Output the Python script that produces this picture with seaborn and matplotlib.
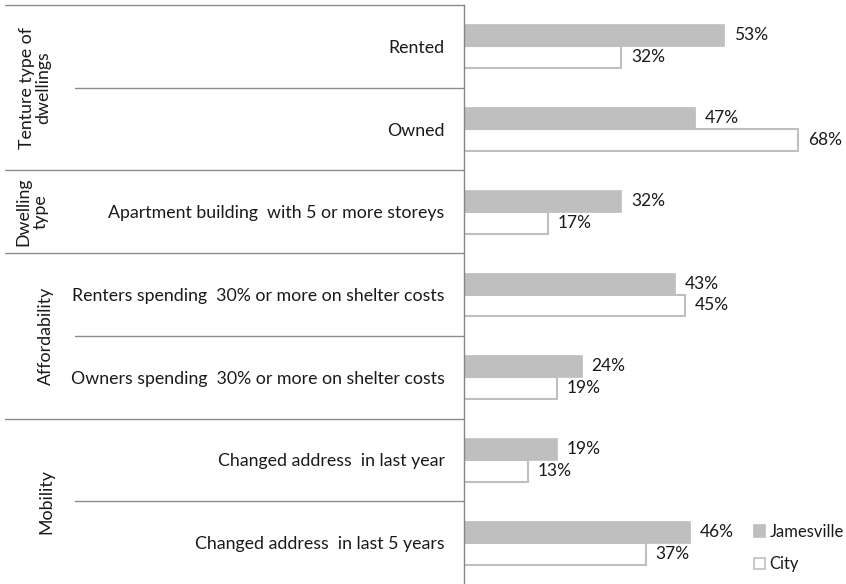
import matplotlib
matplotlib.use("Agg")
import matplotlib.pyplot as plt
import seaborn as sns
import pandas as pd

categories = [
    "Rented",
    "Owned",
    "Apartment building  with 5 or more storeys",
    "Renters spending  30% or more on shelter costs",
    "Owners spending  30% or more on shelter costs",
    "Changed address  in last year",
    "Changed address  in last 5 years",
]
jamesville = [53, 47, 32, 43, 24, 19, 46]
city = [32, 68, 17, 45, 19, 13, 37]
series = ["Jamesville", "City"]

groups = ["Tenture type of\ndwellings", "Dwelling\ntype", "Affordability", "Mobility"]
group_spans = [(0, 1), (2, 2), (3, 4), (5, 6)]

df = pd.DataFrame({
    "category": categories * 2,
    "value": jamesville + city,
    "series": [series[0]] * len(categories) + [series[1]] * len(categories),
})

sns.set_style("white")
plt.rcParams["font.family"] = ["Lato", "DejaVu Sans"]

W, H = 846, 584
fig = plt.figure(figsize=(W / 100, H / 100), dpi=100)
ax = fig.add_axes([464 / W, 0.0, 344 / W, 1 - 5 / H])

gray = "#bfbfbf"
txt = "#1a1a1a"
sns.barplot(data=df, y="category", x="value", hue="series", order=categories,
            hue_order=series, palette=[gray, "white"], width=0.53, orient="h",
            saturation=1, ax=ax, legend=True)

# outline for the white City bars
for patch in ax.containers[1]:
    patch.set_edgecolor(gray)
    patch.set_linewidth(1.5)
for patch in ax.containers[0]:
    patch.set_edgecolor(gray)
    patch.set_linewidth(0.5)

for cont in ax.containers:
    ax.bar_label(cont, fmt="%d%%", padding=7, fontsize=12.5, color=txt)

ax.set_xlim(0, 70)
ax.set_ylim(6.5, -0.5)
ax.set_xlabel("")
ax.set_ylabel("")
ax.set_xticks([])
ax.tick_params(axis="y", length=0, pad=14, labelsize=12.8, labelcolor=txt)
for s in ["top", "right", "bottom"]:
    ax.spines[s].set_visible(False)
ax.spines["left"].set_color("#868686")
ax.spines["left"].set_linewidth(1)

# separator lines in the label area
trans = ax.get_yaxis_transform()
line_col = "#8c8c8c"
x_full = (5 - 464) / 344
x_sub = (75 - 464) / 344
for y in [-0.5, 1.5, 2.5, 4.5]:
    ax.plot([x_full, 0], [y, y], color=line_col, lw=1, transform=trans, clip_on=False)
for y in [0.5, 3.5, 5.5]:
    ax.plot([x_sub, 0], [y, y], color=line_col, lw=1, transform=trans, clip_on=False)

# group labels
group_x = [35, 32, 46, 46]
for name, (a, b), gx in zip(groups, group_spans, group_x):
    yc = (a + b) / 2
    ax.text((gx - 464) / 344, yc, name, transform=trans, rotation=90,
            ha="center", va="center", fontsize=12.8, color=txt,
            multialignment="center", linespacing=1.05)

leg = ax.legend(loc="upper left", bbox_to_anchor=(747 / W, 1 - 517 / H),
                bbox_transform=fig.transFigure, frameon=False, fontsize=12,
                handlelength=0.7, handleheight=0.7, handletextpad=0.25,
                labelspacing=1.0, borderaxespad=0)
for t in leg.get_texts():
    t.set_color(txt)
for h in leg.legend_handles:
    h.set_edgecolor(gray)
    h.set_linewidth(1.2)

fig.savefig("out.png", dpi=100)
